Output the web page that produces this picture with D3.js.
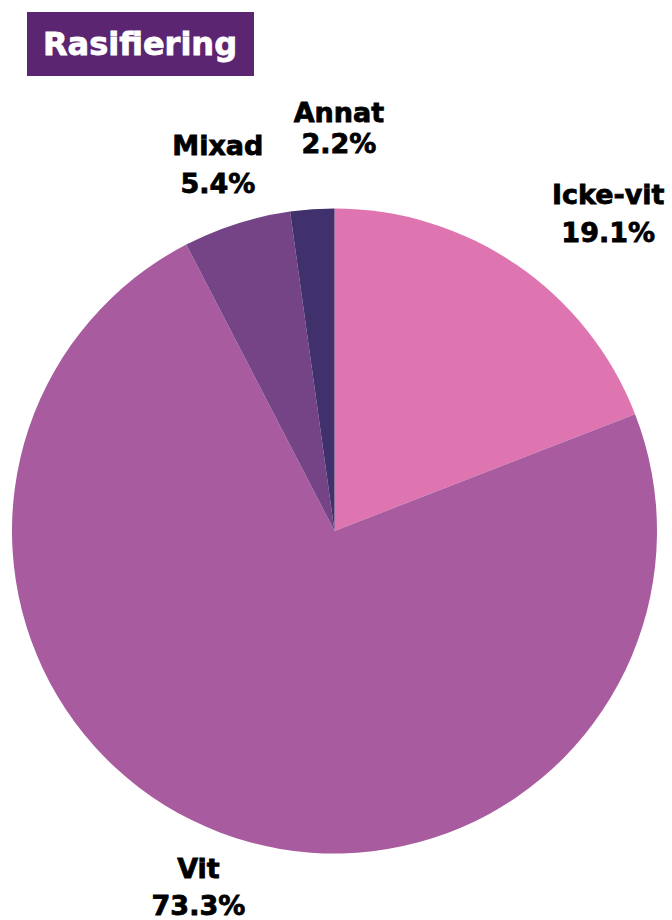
<!DOCTYPE html>
<html lang="sv">
<head>
    <meta charset="UTF-8">
    <title>Rasifiering</title>
    <script src="https://d3js.org/d3.v7.min.js"></script>
    <style>
        body { margin: 0; background: #fff; }
        text { font-family: "DejaVu Sans", sans-serif; font-weight: bold; }
    </style>
</head>
<body>
    <div id="chart-container"></div>
    <script>
        // Data
        const categories = ["Icke-vit", "Vit", "Mixad", "Annat"];
        const values = [19.1, 73.3, 5.4, 2.2];
        const colors = ["#de75b0", "#a85b9e", "#744487", "#40306b"];

        const width = 672;
        const height = 920;
        const cx = 334.5, cy = 531;
        const radius = 322.5;

        const data = categories.map((name, i) => ({ name, value: values[i] }));

        const color = d3.scaleOrdinal().domain(categories).range(colors);

        const svg = d3.select("#chart-container")
            .append("svg")
            .attr("width", width)
            .attr("height", height);

        // Title box
        const title = svg.append("g");
        title.append("rect")
            .attr("x", 27).attr("y", 12)
            .attr("width", 227).attr("height", 64)
            .attr("fill", "#5c2571");
        title.append("text")
            .attr("x", 140).attr("y", 55)
            .attr("text-anchor", "middle")
            .attr("fill", "#fff")
            .attr("stroke", "#fff").attr("stroke-width", 0.8)
            .style("font-size", "32px")
            .text("Rasifiering");

        const g = svg.append("g")
            .attr("transform", `translate(${cx},${cy})`);

        const arc = d3.arc().innerRadius(0).outerRadius(radius);
        const labelArc = d3.arc().innerRadius(385).outerRadius(385);

        const pie = d3.pie().sort(null).value(d => d.value);
        const arcs = pie(data);

        g.selectAll("path")
            .data(arcs)
            .enter()
            .append("path")
            .attr("d", arc)
            .attr("fill", d => color(d.data.name));

        // small manual nudges so labels don't collide
        const nudge = {
            "Annat": { dx: 31, dy: -19, gap: 31 },
            "Icke-vit": { anchorStart: true },
            "Vit": { dy: -5, gap: 37 }
        };

        const fontSize = 27;
        const labels = g.selectAll(".label")
            .data(arcs)
            .enter()
            .append("g")
            .attr("class", "label");

        labels.each(function(d) {
            const n = nudge[d.data.name] || {};
            const gap = n.gap || 38;
            let [x, y] = labelArc.centroid(d);
            x += n.dx || 0;
            y += n.dy || 0;
            const el = d3.select(this);
            const lines = [d.data.name, d.data.value.toFixed(1) + "%"];
            const top = y - gap / 2 + fontSize * 0.73 / 2;
            const t = el.selectAll("text")
                .data(lines)
                .enter()
                .append("text")
                .attr("x", x)
                .attr("y", (s, i) => top + i * gap)
                .attr("text-anchor", "middle")
                .attr("fill", "#000")
                .attr("stroke", "#000").attr("stroke-width", 0.8)
                .style("font-size", fontSize + "px")
                .text(s => s);
            if (n.anchorStart) {
                const w = d3.max(t.nodes(), nd => nd.getComputedTextLength());
                t.attr("x", x + w / 2);
            }
        });
    </script>
</body>
</html>
